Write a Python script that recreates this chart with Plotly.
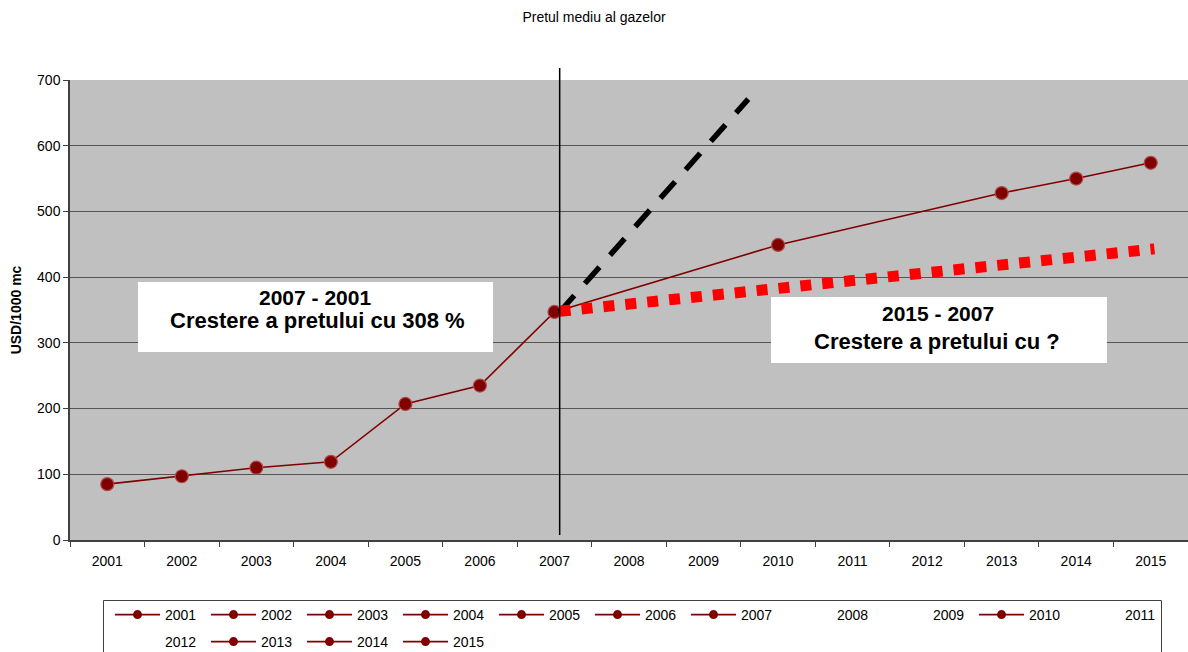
import plotly.graph_objects as go

years = ["2001", "2002", "2003", "2004", "2005", "2006", "2007", "2008",
         "2009", "2010", "2011", "2012", "2013", "2014", "2015"]
price = [85, 97, 110, 119, 207, 235, 347, None, None, 449, None, None, 528, 550, 574]

# projection lines (x as category index position)
fast_x = [6.07, 8.6]
fast_y = [347, 671]
slow_x = [6.07, 14.05]
slow_y = [348, 443]

title_text = "Pretul mediu al gazelor"
y_title = "USD/1000 mc"
box1_lines = ["2007 - 2001", "Crestere a pretului cu 308 %"]
box2_lines = ["2015 - 2007", "Crestere a pretului cu ?"]

FONT = "Liberation Sans, Arial, sans-serif"
MAROON = "#800000"

fig = go.Figure()

fig.add_trace(go.Scatter(
    x=years, y=price, mode="lines+markers", connectgaps=True,
    line=dict(color=MAROON, width=1.6),
    marker=dict(size=13, color=MAROON, line=dict(color="#b04848", width=1.2)),
    showlegend=False, hoverinfo="x+y"))

# legend entries, one per year (first row 2001-2011, second row 2012-2015)
for i, (yr, v) in enumerate(zip(years, price)):
    leg = "legend" if i < 11 else "legend2"
    if v is not None:
        fig.add_trace(go.Scatter(
            x=[yr], y=[None], mode="lines+markers", name=yr, legend=leg,
            line=dict(color=MAROON, width=1.6),
            marker=dict(size=9, color=MAROON), showlegend=True))
    else:
        fig.add_trace(go.Scatter(
            x=[yr], y=[None], mode="lines", name=yr, legend=leg,
            line=dict(color="rgba(0,0,0,0)", width=0), showlegend=True))

fig.add_trace(go.Scatter(
    x=fast_x, y=fast_y, xaxis="x2", mode="lines",
    line=dict(color="black", width=5.5, dash="22px,16px"),
    showlegend=False, hoverinfo="skip"))
fig.add_trace(go.Scatter(
    x=slow_x, y=slow_y, xaxis="x2", mode="lines",
    line=dict(color="#ff0000", width=11, dash="11px,11px"),
    showlegend=False, hoverinfo="skip"))

def px_x(p):
    return (p - 70) / 1118.0

def px_y(p):
    return (540 - p) / 460.0

shapes = [
    dict(type="line", xref="x2", yref="paper", x0=6.07, x1=6.07,
         y0=px_y(535), y1=px_y(68), line=dict(color="black", width=1.5), layer="above"),
    dict(type="rect", xref="paper", yref="paper", x0=px_x(138), x1=px_x(493),
         y0=px_y(352), y1=px_y(282), fillcolor="white", line=dict(width=0), layer="above"),
    dict(type="rect", xref="paper", yref="paper", x0=px_x(771), x1=px_x(1107),
         y0=px_y(363), y1=px_y(297), fillcolor="white", line=dict(width=0), layer="above"),
    # legend frame
    dict(type="rect", xref="paper", yref="paper", x0=px_x(103.5), x1=px_x(1161.5),
         y0=px_y(670), y1=px_y(600.5), fillcolor="rgba(0,0,0,0)",
         line=dict(color="#404040", width=1), layer="above"),
]

annfont = dict(family=FONT, size=21, color="black")
annfont2 = dict(family=FONT, size=22, color="black")
annotations = [
    dict(x=px_x(315), y=px_y(297), xref="paper", yref="paper", text="<b>%s</b>" % box1_lines[0],
         showarrow=False, font=annfont, xanchor="center", yanchor="middle"),
    dict(x=px_x(317), y=px_y(320), xref="paper", yref="paper", text="<b>%s</b>" % box1_lines[1],
         showarrow=False, font=annfont2, xanchor="center", yanchor="middle"),
    dict(x=px_x(938), y=px_y(313), xref="paper", yref="paper", text="<b>%s</b>" % box2_lines[0],
         showarrow=False, font=annfont, xanchor="center", yanchor="middle"),
    dict(x=px_x(937), y=px_y(341), xref="paper", yref="paper", text="<b>%s</b>" % box2_lines[1],
         showarrow=False, font=annfont2, xanchor="center", yanchor="middle"),
]

legend_common = dict(orientation="h", xref="container", yref="container",
                     xanchor="left", yanchor="top",
                     bgcolor="rgba(0,0,0,0)", borderwidth=0,
                     font=dict(family=FONT, size=14, color="black"),
                     itemwidth=45, entrywidth=36, entrywidthmode="pixels",
                     traceorder="normal")

fig.update_layout(
    width=1188, height=652, autosize=False,
    margin=dict(l=70, r=0, t=80, b=112, autoexpand=False),
    paper_bgcolor="white", plot_bgcolor="#c0c0c0",
    font=dict(family=FONT, size=14, color="black"),
    title=dict(text=title_text, x=0.5, xref="container", xanchor="center",
               y=1 - 17 / 652.0, yref="container", yanchor="middle",
               font=dict(family=FONT, size=14, color="black")),
    xaxis=dict(type="category", categoryorder="array", categoryarray=years,
               range=[-0.5, 14.5], tickson="boundaries", ticks="outside", ticklen=5,
               tickcolor="#404040", showgrid=False, showline=True, linecolor="#404040",
               linewidth=1.5, zeroline=False, tickfont=dict(size=14),
               ticklabelstandoff=7, fixedrange=True),
    xaxis2=dict(overlaying="x", range=[-0.5, 14.5], visible=False, fixedrange=True),
    yaxis=dict(range=[0, 700], dtick=100, ticks="outside", ticklen=5, tickcolor="#404040",
               showgrid=True, gridcolor="#555555", gridwidth=1, showline=True,
               linecolor="#404040", linewidth=1.5, zeroline=False, tickfont=dict(size=14),
               title=dict(text="<b>%s</b>" % y_title, font=dict(size=14), standoff=12),
               fixedrange=True),
    legend=dict(legend_common, x=110 / 1188.0, y=1 - 599 / 652.0),
    legend2=dict(legend_common, x=110 / 1188.0, y=1 - 626 / 652.0),
    shapes=shapes, annotations=annotations,
)

fig.write_html("out.html")
